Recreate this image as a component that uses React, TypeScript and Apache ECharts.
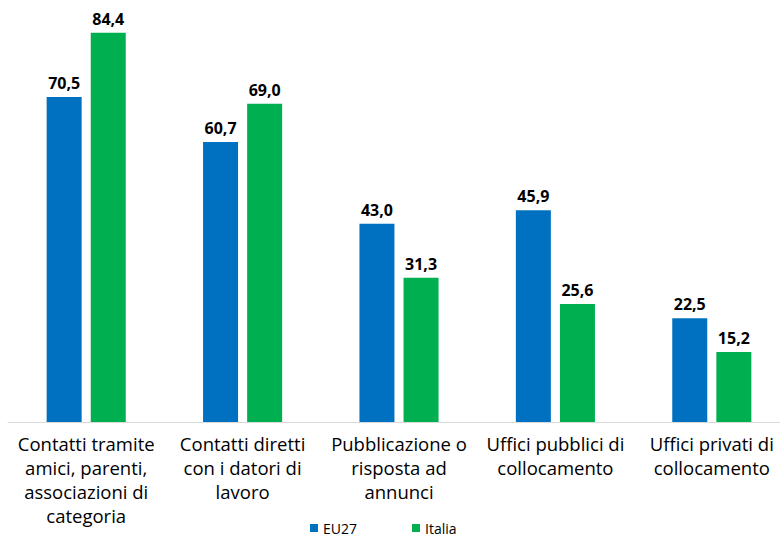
import React, { useEffect, useRef } from "react";
import * as echarts from "echarts";

const categories = [
  "Contatti tramite\namici, parenti,\nassociazioni di\ncategoria",
  "Contatti diretti\ncon i datori di\nlavoro",
  "Pubblicazione o\nrisposta ad\nannunci",
  "Uffici pubblici di\ncollocamento",
  "Uffici privati di\ncollocamento",
];
const eu27 = [70.5, 60.7, 43.0, 45.9, 22.5];
const italia = [84.4, 69.0, 31.3, 25.6, 15.2];

const fmt = (p: any) => Number(p.value).toFixed(1).replace(".", ",");

export default function App() {
  const ref = useRef<HTMLDivElement>(null);
  useEffect(() => {
    const chart = echarts.init(ref.current!, undefined, { renderer: "svg" });
    const labelStyle = {
      show: true,
      position: "top" as const,
      distance: 6,
      formatter: fmt,
      fontFamily: "Open Sans",
      fontWeight: "bold" as const,
      fontSize: 16,
      color: "#000",
    };
    chart.setOption({
      animation: false,
      grid: { left: 8, right: -10, top: 7, bottom: 114, containLabel: false, outerBoundsMode: "none" },
      legend: {
        top: 516,
        left: 305,
        itemWidth: 8,
        itemHeight: 8,
        itemGap: 55,
        itemTextGap: 7,
        icon: "rect",
        textStyle: { fontFamily: "Open Sans", fontSize: 14, color: "#000" },
        data: ["EU27", "Italia"],
      },
      xAxis: {
        type: "category",
        data: categories,
        axisLine: { lineStyle: { color: "#d9d9d9", width: 1 } },
        axisTick: { show: false },
        axisLabel: {
          interval: 0,
          margin: 9,
          fontFamily: "Open Sans",
          fontSize: 18.5,
          lineHeight: 24,
          color: "#000",
          align: "center",
          verticalAlign: "top",
        },
      },
      yAxis: {
        type: "value",
        min: 0,
        max: 90,
        show: false,
        splitLine: { show: false },
      },
      series: [
        {
          name: "EU27",
          type: "bar",
          data: eu27,
          barWidth: 35,
          barGap: "26%",
          itemStyle: { color: "#0070C0" },
          label: labelStyle,
        },
        {
          name: "Italia",
          type: "bar",
          data: italia,
          barWidth: 35,
          itemStyle: { color: "#00B050" },
          label: labelStyle,
        },
      ],
    });
    return () => chart.dispose();
  }, []);
  return <div ref={ref} style={{ width: 780, height: 536, position: "absolute", left: 0, top: 0 }} />;
}
